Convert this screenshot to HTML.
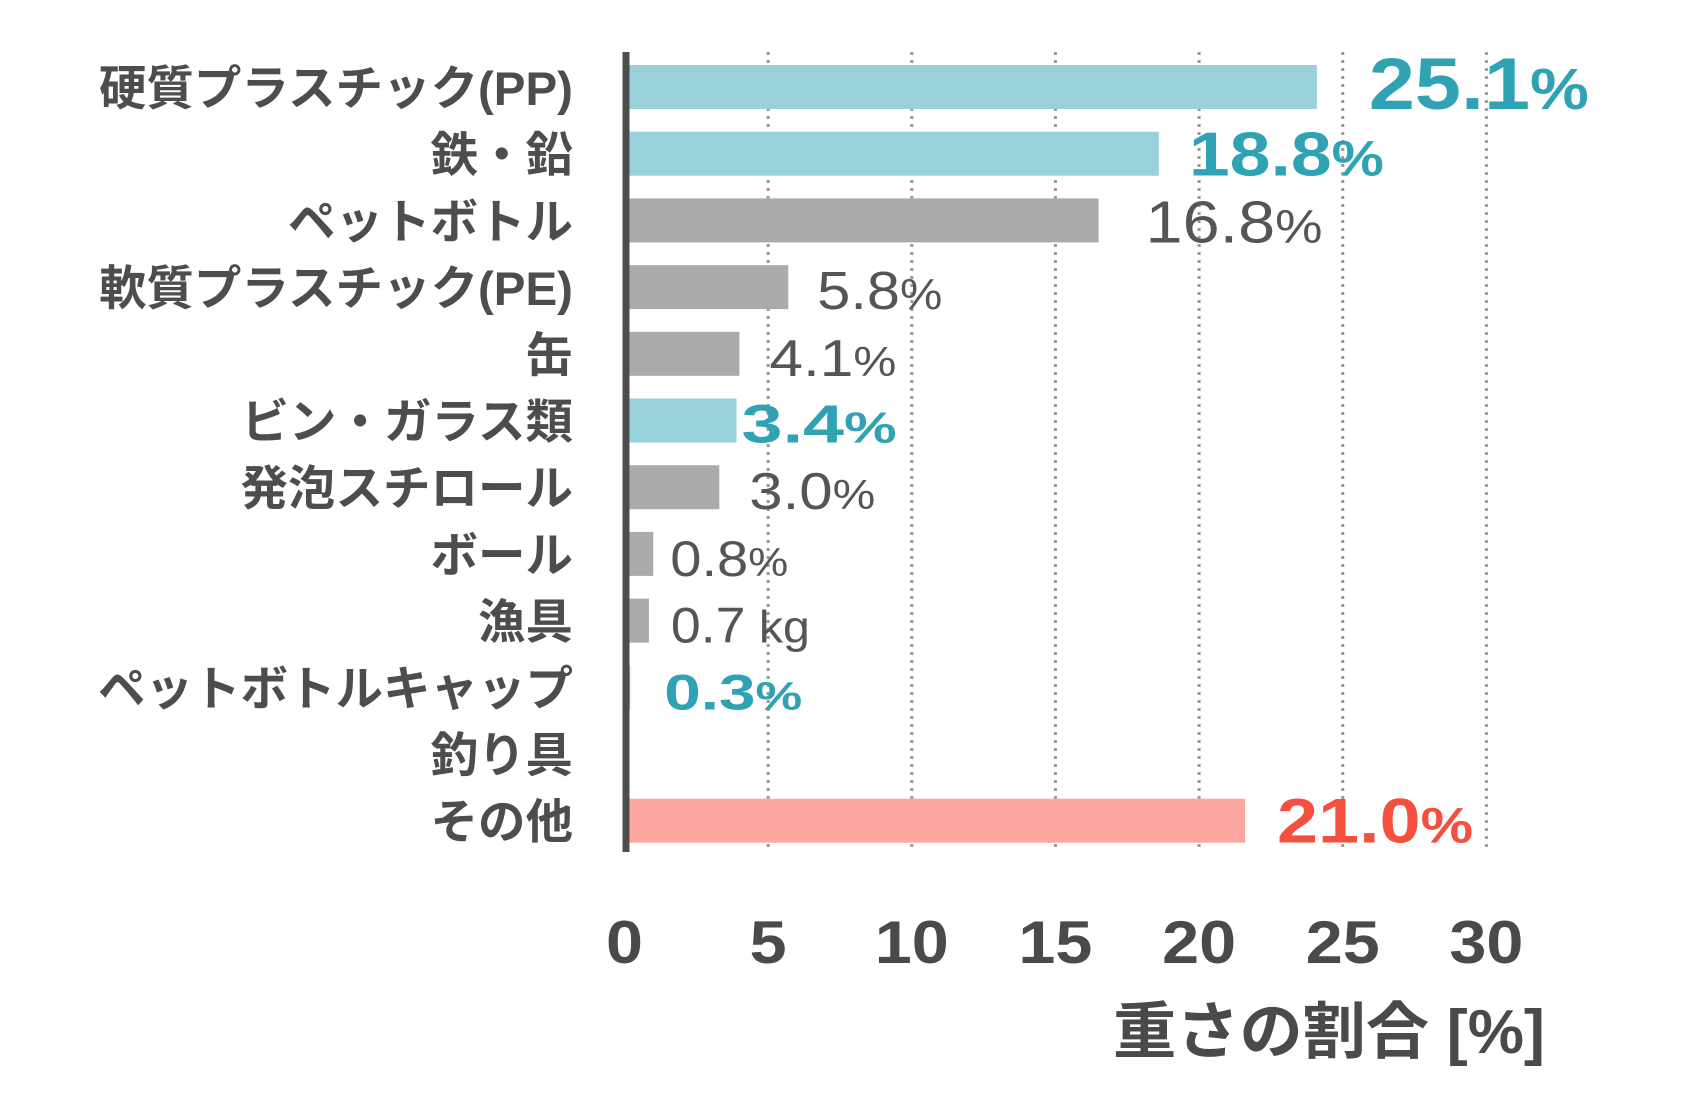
<!DOCTYPE html>
<html><head><meta charset="utf-8">
<style>
html,body{margin:0;padding:0;background:#fff;}
svg{display:block;}
text{font-family:"Liberation Sans","Noto Sans CJK JP",sans-serif;}
</style></head>
<body>
<svg id="chart" width="1700" height="1100" viewBox="0 0 1700 1100" xmlns="http://www.w3.org/2000/svg">
<g id="grid"></g>
<g id="bars"></g>
<g id="cats"></g>
<g id="vals"></g>
<g id="ticks"></g>
<line x1="626" y1="52" x2="626" y2="852" stroke="#4d4d4d" stroke-width="7"/>
<text x="1545" y="1053" text-anchor="end" font-size="62" font-weight="bold" fill="#4a4a4a" textLength="432" lengthAdjust="spacingAndGlyphs" style='font-family:"Liberation Sans","Noto Sans CJK JP",sans-serif'>重さの割合 [%]</text>
</svg>
<script>
const categories=["硬質プラスチック(PP)","鉄・鉛","ペットボトル","軟質プラスチック(PE)","缶","ビン・ガラス類","発泡スチロール","ボール","漁具","ペットボトルキャップ","釣り具","その他"];
const values=[24.1,18.6,16.5,5.7,4.0,3.9,3.3,1.0,0.85,0.2,0,21.6];
const valueLabels=["25.1","18.8","16.8","5.8","4.1","3.4","3.0","0.8","0.7","0.3","","21.0"];
const valueUnits=["%","%","%","%","%","%","%","%"," kg","%","","%"];
const highlight=["teal","teal","gray","gray","gray","teal","gray","gray","gray","teal","gray","red"];
const tickValues=[0,5,10,15,20,25,30];

const NS="http://www.w3.org/2000/svg";
const x0=624.5, pxPer=28.73;
function xs(v){return x0+v*pxPer;}
function yc(i){return 87+i*66.7;}
const barH=44;
const fills={teal:"#99d1da",gray:"#ababab",red:"#fca8a0"};
const txtCol={teal:"#2fa3b3",gray:"#555555",red:"#f5503f"};
const fsz=[73,62,59,54,52,54,52,50,50,50,50,63];
const labelGap=[52,30,47,29,30,5,30,17,22,34,0,32];
const labelW=[220,195,177,125,127,155,126,118,139,138,0,196];
function mk(tag,attrs,parent){const e=document.createElementNS(NS,tag);for(const k in attrs)e.setAttribute(k,attrs[k]);parent.appendChild(e);return e;}
const grid=document.getElementById('grid'),bars=document.getElementById('bars'),cats=document.getElementById('cats'),vals=document.getElementById('vals'),ticks=document.getElementById('ticks');
tickValues.forEach((t,k)=>{
  if(t>0){const l=mk('line',{x1:xs(t),x2:xs(t),y1:52,y2:852,stroke:"#999",'stroke-width':3,'stroke-dasharray':"3 5"},grid);
  
  }
  const s=String(t);
  const tx=mk('text',{x:xs(t),y:963,'text-anchor':'middle','font-size':60,'font-weight':'bold',fill:'#4a4a4a',textLength:s.length*37,lengthAdjust:'spacingAndGlyphs'},ticks);
  tx.textContent=s;
  
  
});
categories.forEach((c,i)=>{
  const y=yc(i);
  const r=mk('rect',{x:x0,y:y-barH/2,width:Math.max(0,xs(values[i])-x0),height:barH,fill:fills[highlight[i]]},bars);
  
  
  const t=mk('text',{x:573,y:y+18,'text-anchor':'end','font-size':47.5,'font-weight':'bold',fill:'#4d4d4d'},cats);
  t.textContent=c;
  
  
  if(valueLabels[i]!==""){
    const bold=highlight[i]!=="gray";
    const fs=fsz[i];
    const v=mk('text',{x:xs(values[i])+labelGap[i],y:y+22,'font-size':fs,'font-weight':bold?'bold':'normal',fill:txtCol[highlight[i]],textLength:labelW[i],lengthAdjust:'spacingAndGlyphs'},vals);
    v.textContent=valueLabels[i];
    const s=mk('tspan',{'font-size':fs*(valueUnits[i]==="%"?0.8:0.9)},v);
    s.textContent=valueUnits[i];
    
    
  }
});
</script>
</body></html>
